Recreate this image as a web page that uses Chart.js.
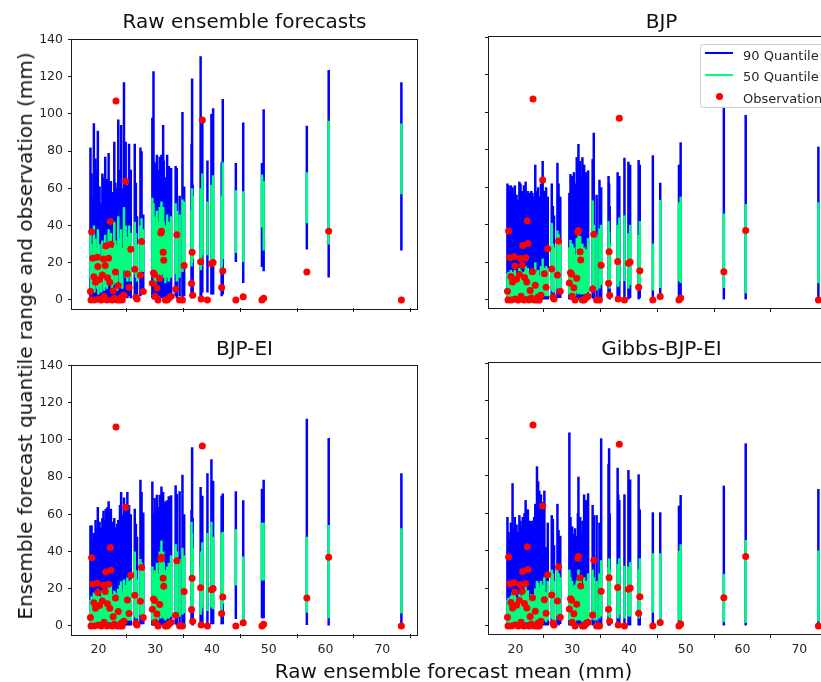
<!DOCTYPE html>
<html><head><meta charset="utf-8">
<script src="https://cdn.jsdelivr.net/npm/chart.js@4/dist/chart.umd.min.js"></script>
<style>
html,body{margin:0;padding:0;background:#fff;}
#wrap{position:relative;width:821px;height:682px;overflow:hidden;font-family:"DejaVu Sans",sans-serif;background:#fff;}
canvas{position:absolute;}
.t{position:absolute;white-space:nowrap;color:#111;}
.lg{position:absolute;}
</style></head><body>
<div id="wrap">
<canvas id="c0"></canvas><canvas id="c1"></canvas><canvas id="c2"></canvas><canvas id="c3"></canvas>
<div class="t" id="tt0" style="font-size:20px;line-height:20px;"></div>
<div class="t" id="tt1" style="font-size:20px;line-height:20px;"></div>
<div class="t" id="tt2" style="font-size:20px;line-height:20px;"></div>
<div class="t" id="tt3" style="font-size:20px;line-height:20px;"></div>
<div class="t" id="xl" style="font-size:20px;line-height:20px;"></div>
<div class="t" id="yl" style="font-size:20px;line-height:20px;"></div>
<div id="legend" style="position:absolute;left:700px;top:44px;width:150px;height:64px;border:1px solid #cccccc;border-radius:3px;background:rgba(255,255,255,0.8);box-sizing:border-box;"></div>
</div>
<script>
// ---------- data ----------
const titles = ["Raw ensemble forecasts", "BJP", "BJP-EI", "Gibbs-BJP-EI"];
const xAxisTitle = "Raw ensemble forecast mean (mm)";
const yAxisTitle = "Ensemble forecast quantile range and observation (mm)";
const legendLabels = ["90 Quantile", "50 Quantile", "Observation"];
const xTicks = [20, 30, 40, 50, 60, 70];
const yTicks = [0, 20, 40, 60, 80, 100, 120, 140];

const xMean = [18.6,18.7,18.8,19.0,19.2,19.3,19.5,19.8,19.9,20.0,
 20.2,20.5,20.7,20.9,21.0,21.2,21.3,21.5,21.6,21.8,
 22.0,22.1,22.2,22.4,22.6,22.8,23.0,23.1,23.3,23.5,
 23.8,24.0,24.2,24.5,24.8,25.1,25.4,25.7,26.4,26.6,
 26.8,27.4,27.6,27.9,29.5,29.7,29.9,30.0,30.3,30.5,
 30.8,31.0,31.1,31.4,31.5,31.8,32.1,32.4,32.8,33.6,
 33.8,34.3,34.8,35.1,36.4,36.5,36.6,38.0,38.1,38.3,
 39.2,39.9,40.2,41.7,41.9,44.2,45.5,48.8,49.1,56.7,
 60.55,73.35];

const obs = [4.6,0,36.7,22.5,12.5,0,9.5,23,18,0.5,
 11,0,13.5,22,2,18.5,29,0,12,22.5,
 9.5,42.2,30,0,5,1,15,107,0,7.8,
 0,1.5,0,2.5,63.8,14,6.7,27.3,16.5,1.5,
 0.5,13.3,31.4,4.6,9,14.5,13.7,2,6.5,0,
 11.5,36,37,25.7,21.3,0,0,1,2,5.8,
 35,0,0,18.5,8.9,25.7,2.5,20.5,0.5,96.7,
 0,19.5,20.2,6.7,15.6,0,1.8,0,1,15,
 37,0];

// Raw ensemble
const rawQ95 = [82,41,68,55,95,60,76,70,91,48, 61,52,68,66,45,77,58,65,62,79, 63,55,64,50,58,85,63,60,52,97,
 70,94,60,117,85,62,84,70,84,63, 45,82,80,46,98,123,74,73,78,70, 77,60,78,94,75,66,78,72,71,72,
 71,56,101,61,84,119,62,131,84,96, 75,100,103,74,108,73.6,95.4,73.6,102.5,93.7, 123.6,117];
const rawQ75 = [35,22,30,25,40,20,33,28,38,18, 30,22,32,30,20,35,28,26,30,38, 30,34,36,24,28,42,32,30,25,45,
 33,38,28,50,40,34,40,36,42,36, 30,40,44,38,55,52,45,40,48,42, 50,45,53,50,42,40,46,42,45,52,
 48,46,54,53,48,60,56,60,55,68, 53,62,67,56,74,59,58.5,67.4,64,68.7, 96.3,94.9];
const rawQ25 = [12,5,8,6,10,4,9,6,12,3, 7,4,10,8,5,11,7,6,8,12, 9,12,10,6,8,12,9,8,5,14,
 8,10,6,16,12,10,12,10,14,12, 10,14,16,15,14,12,10,8,12,10, 14,12,16,14,12,9,12,10,12,14,
 10,12,15,18,18,20,22,16,18,24, 24,20,18,15,22,25.2,20.4,39,26.6,41.3, 29.8,56.8];
const rawQ05 = [1,0,1,0,2,0,1,0,2,0, 1,0,2,1,0,2,1,0,1,2, 1,3,1,0,1,2,1,0,0,2,
 0,1,0,3,2,1,2,1,2,1, 2,2,3,4,1,0,1,0,1,0, 2,1,2,1,1,0,1,1,2,2,
 1,2,1,2,1,2,3,1,2,4, 4,3,3,2,3,20.4,9.2,17.7,15.4,27.1, 12.1,26.6];

// BJP
const bjpQ95 = [62,55,61,58,61,54,60,57,61,50, 56,53,63,62,50,58,55,61,57,63, 56,52,58,54,57,58,57,55,53,72,
 58,60,55,62,74,58,60,55,62,50, 45,73,62,55,57,67,60,66,68,62, 76,70,83,74,66,76,72,68,69,75,
 89,56,64,60,66,62,50,68,60,66, 75.7,73.6,72,74.5,72,77,62.4,72,83.9,103, 98.5,81.6];
const bjpQ75 = [14,12,15,13,16,11,15,13,16,10, 14,12,17,16,11,15,13,15,14,18, 15,14,17,12,14,16,15,14,12,20,
 15,16,13,18,22,17,18,17,41,30, 28,37,35,30,28,32,25,30,28,24, 33,30,36,34,30,30,28,27,33,53,
 40,35,38,40,42,36,30,40,35,44, 45,35.5,40,34.6,42,30,53.2,52,55,46, 51,52];
const bjpQ25 = [2,1,2,1,2,1,2,1,2,1, 1,1,2,2,1,2,1,1,2,2, 2,2,2,1,2,2,2,1,1,3,
 2,2,1,3,3,2,2,2,5,4, 4,6,5,6,3,4,3,3,3,2, 4,3,5,4,3,3,3,3,4,8,
 5,5,6,8,10,8,6,8,7,10, 10,6,8,5,7,5,6.4,10,8.9,6.4, 3.5,8.9];
const bjpQ05 = [0,0,0,0,0,0,0,0,0,0, 0,0,0,0,0,0,0,0,0,0, 0,0,0,0,0,0,0,0,0,0,
 0,0,0,0,0,0,0,0,1,0, 1,1,1,1,0,0,0,0,0,0, 0,0,0,0,0,0,0,0,0,1,
 0,0,1,1,1,1,0,1,1,1, 1,0,1,0,1,0,0.5,1,1,0, 0,0];

// BJP-EI
const eiQ95 = [54,40,54,47,50,45,57,52,64,44, 56,53,58,62,46,57,63,58,64,67, 60,54,63,52,56,58,53,50,55,57,
 65,72,60,69,62,72,65,60,63,55, 48,78.6,72,61,77.7,60,68.8,62,70.6,64, 70.6,66,75,72,66,67,67.6,69.7,70.3,75.6,
 71,72.4,81.3,60,62.3,96,58,74.7,66,70, 82.1,89.6,78,70,71.2,72.4,67.6,73.8,78.6,111.4, 101.1,82.1];
const eiQ75 = [14,12,16,13,18,12,17,15,20,11, 16,14,19,18,12,18,20,16,19,22, 18,20,22,14,17,19,18,16,15,20,
 22,24,18,25,22,26,24,25,40,30, 25,36,34,30,32,28,30,26,34,28, 40,36,46,40,34,30,32,34,38,44,
 40,36,42,38,56,50,42,32,40,45, 50,56,48,50,50.7,52,37.3,55.5,55.5,47.9, 54.3,52.5];
const eiQ25 = [2,1,2,1,2,1,2,2,2,1, 2,1,2,2,1,2,2,1,2,3, 2,2,3,1,2,2,2,1,1,2,
 2,3,2,3,3,3,3,3,5,4, 4,6,5,6,3,3,3,2,4,3, 5,4,6,5,4,3,4,4,5,7,
 5,5,6,7,10,12,8,6,8,10, 8,10,9,8,12,21.8,1.5,24.5,24.5,7.1, 4.1,6.7];
const eiQ05 = [0,0,0,0,0,0,0,0,0,0, 0,0,0,0,0,0,0,0,0,0, 0,0,0,0,0,0,0,0,0,0,
 0,0,0,0,0,0,0,0,1,0, 1,1,1,1,0,0,0,0,0,0, 0,0,1,0,0,0,0,0,0,1,
 0,0,1,1,1,1,0,0,1,1, 1,1,1,1,1,3.7,0,4.1,4.1,0.5, 0,0];

// Gibbs-BJP-EI
const gQ95 = [58,43,50,46,55,44,76,52,58,49, 54,50,59,56,45,53,58,47,60,67, 62,58,62,50,56,54,56,52,58,65,
 85,77,72,70,66,72,42,55,59,57, 43,65,51,48,103,58,50,53,49,52, 48,60,79.5,58,49,56,70,67,70.6,64.4,
 59,59,55,99.9,86.2,94.6,60,84.2,70,67, 70.1,83,78,80.7,62,60.5,60.5,64,69.7,74.7, 97.2,72.9];
const gQ75 = [14,10,15,12,16,11,18,14,17,12, 15,13,17,16,11,15,18,13,17,21, 17,18,19,13,16,17,17,15,14,20,
 24,23,20,24,22,26,18,24,30,28, 24,33,28,26,30,26,22,24,21,22, 24,26,30,27,24,22,26,24,28,30,
 26,24,28,35,31.2,36,30,33,30,36, 32,31.6,34,30.2,36,38.7,38.7,40,43.5,27.7, 45.8,40.1];
const gQ25 = [2,1,2,1,2,1,2,1,2,1, 2,1,2,2,1,2,2,1,2,2, 2,2,2,1,2,2,2,1,1,2,
 3,2,2,3,2,3,2,3,4,3, 3,5,4,5,3,2,2,2,2,2, 3,3,4,3,3,2,3,3,3,4,
 3,3,4,5,5,6,4,5,4,6, 4,5,5,4,5,7,2,3,2,2, 1.6,2.3];
const gQ05 = [0,0,0,0,0,0,0,0,0,0, 0,0,0,0,0,0,0,0,0,0, 0,0,0,0,0,0,0,0,0,0,
 0,0,0,0,0,0,0,0,1,0, 0,1,0,1,0,0,0,0,0,0, 0,0,0,0,0,0,0,0,0,0,
 0,0,0,0,0,0,0,0,0,0, 0,0,0,0,0,1,0,0,0,0, 0,0];

// ---------- layout ----------
const PW = 345, PH = 271;
const X_MIN = 15.35, X_MAX = 76.1, Y_MIN = -4.3, Y_MAX = 140;
const FONT = "'DejaVu Sans', sans-serif";
const panels = [
  {id:'c0', px:72,  py:37,  q:[rawQ05,rawQ25,rawQ75,rawQ95], showX:false, showY:true},
  {id:'c1', px:489, py:37,  q:[bjpQ05,bjpQ25,bjpQ75,bjpQ95], showX:false, showY:false},
  {id:'c2', px:72,  py:363, q:[eiQ05,eiQ25,eiQ75,eiQ95],     showX:true,  showY:true},
  {id:'c3', px:489, py:363, q:[gQ05,gQ25,gQ75,gQ95],         showX:true,  showY:false},
];

const framePlugin = {
  id: 'frame',
  afterDatasetsDraw(chart) {
    const a = chart.chartArea, c = chart.ctx;
    c.save();
    c.strokeStyle = '#1a1a1a';
    c.lineWidth = 1;
    c.strokeRect(Math.round(a.left) - 0.5, Math.round(a.top) - 0.5, Math.round(a.right - a.left) + 1, Math.round(a.bottom - a.top) + 1);
    c.restore();
  }
};

panels.forEach(p => {
  const yw = p.showY ? p.px : 20;
  const pt = 10, pr = 10, xh = 30;
  const cv = document.getElementById(p.id);
  cv.width = yw + PW + pr;
  cv.height = pt + PH + xh;
  cv.style.left = (p.px - yw) + 'px';
  cv.style.top = (p.py - pt) + 'px';
  const [q05, q25, q75, q95] = p.q;
  new Chart(cv.getContext('2d'), {
    type: 'bar',
    data: {
      datasets: [
        {type:'bar', label:legendLabels[0], data: xMean.map((x,i)=>({x:x, y:[q05[i], q95[i]]})),
         backgroundColor:'#0000ff', borderWidth:0, barThickness:2.5, stack:'q', order:2, inflateAmount:0},
        {type:'bar', label:legendLabels[1], data: xMean.map((x,i)=>({x:x, y:[q25[i], q75[i]]})),
         backgroundColor:'#00ff7f', borderWidth:0, barThickness:2.5, stack:'q', order:1, inflateAmount:0},
        {type:'scatter', label:legendLabels[2], data: xMean.map((x,i)=>({x:x, y:obs[i]})),
         backgroundColor:'#ff0000', pointBackgroundColor:'#ff0000', pointBorderWidth:0, pointRadius:3.5,
         showLine:false, order:0}
      ]
    },
    options: {
      animation:false, responsive:false, devicePixelRatio:1,
      events: [],
      layout:{padding:{top:pt, right:pr, left:0, bottom:0}},
      plugins:{legend:{display:false}, tooltip:{enabled:false}, title:{display:false}},
      scales:{
        x:{type:'linear', position:'bottom', min:X_MIN, max:X_MAX, offset:false,
           afterBuildTicks: s => { s.ticks = xTicks.map(v=>({value:v})); },
           afterFit: s => { s.height = xh; },
           grid:{display:true, drawOnChartArea:false, drawTicks:true, tickLength:4, tickColor:'#1a1a1a', lineWidth:1},
           border:{display:false},
           ticks:{display:p.showX, autoSkip:false, maxRotation:0, padding:4, color:'#262626', font:{family:FONT, size:12.5}}},
        y:{type:'linear', position:'left', min:Y_MIN, max:Y_MAX, stacked:false,
           afterBuildTicks: s => { s.ticks = yTicks.map(v=>({value:v})); },
           afterFit: s => { s.width = yw; },
           grid:{display:true, drawOnChartArea:false, drawTicks:true, tickLength:4, tickColor:'#1a1a1a', lineWidth:1},
           border:{display:false},
           ticks:{display:p.showY, autoSkip:false, padding:5, color:'#262626', font:{family:FONT, size:12.5}}}
      }
    },
    plugins:[framePlugin]
  });
});

// ---------- text ----------
function placeTitle(id, text, cx, top) {
  const d = document.getElementById(id);
  d.textContent = text;
  d.style.left = cx + 'px';
  d.style.top = top + 'px';
  d.style.transform = 'translateX(-50%)';
}
placeTitle('tt0', titles[0], 72 + PW/2, 10.8);
placeTitle('tt1', titles[1], 489 + PW/2, 10.8);
placeTitle('tt2', titles[2], 72 + PW/2, 338.1);
placeTitle('tt3', titles[3], 489 + PW/2, 338.1);
placeTitle('xl', xAxisTitle, 453.5, 661.4);
const yl = document.getElementById('yl');
yl.textContent = yAxisTitle;
yl.style.left = '24.6px';
yl.style.top = '336px';
yl.style.transform = 'translate(-50%,-50%) rotate(-90deg)';

// legend
const lg = document.getElementById('wrap');
const entries = [
  {kind:'line', color:'#0000ff', cy:53.3, baseTop:48.5},
  {kind:'line', color:'#00ff7f', cy:75, baseTop:70},
  {kind:'dot',  color:'#ff0000', cy:96.5, baseTop:91.5}
];
entries.forEach((e, i) => {
  const h = document.createElement('div');
  h.className = 'lg';
  if (e.kind === 'line') {
    h.style.left = '705px'; h.style.width = '28px'; h.style.height = '2px';
    h.style.top = (e.cy - 1) + 'px'; h.style.background = e.color;
  } else {
    h.style.left = '716px'; h.style.width = '7px'; h.style.height = '7px';
    h.style.top = (e.cy - 3.5) + 'px'; h.style.background = e.color; h.style.borderRadius = '50%';
  }
  lg.appendChild(h);
  const t = document.createElement('div');
  t.className = 't';
  t.style.left = '743px'; t.style.top = e.baseTop + 'px';
  t.style.fontSize = '13px'; t.style.lineHeight = '13px'; t.style.color = '#262626';
  t.textContent = legendLabels[i];
  lg.appendChild(t);
});
</script>
</body></html>
